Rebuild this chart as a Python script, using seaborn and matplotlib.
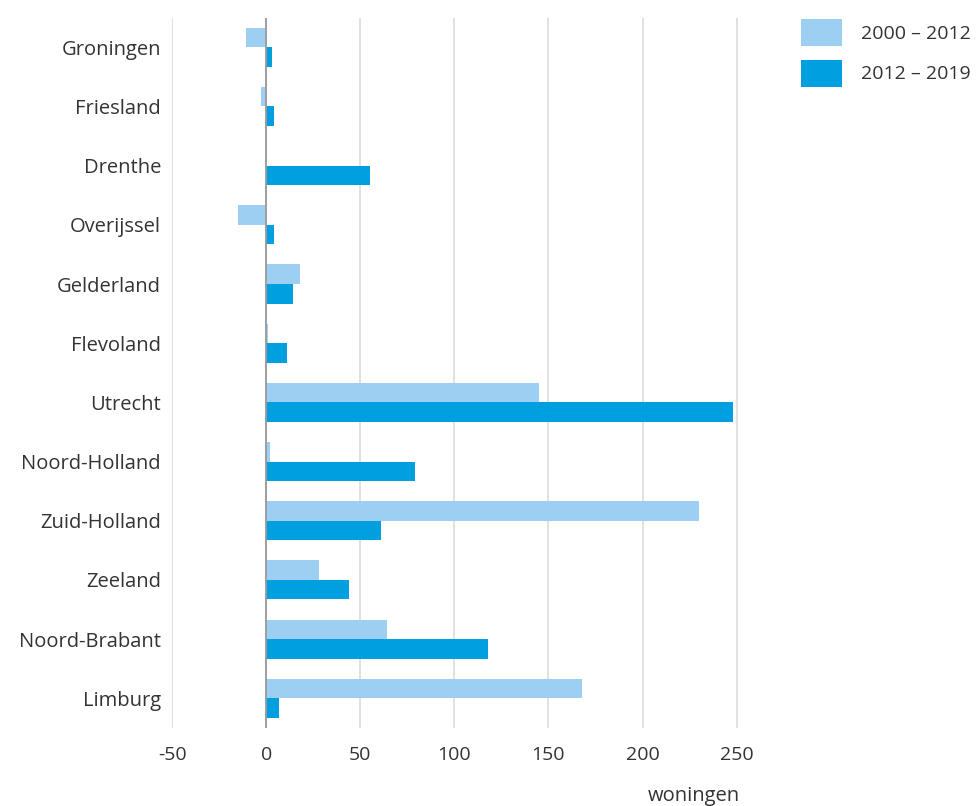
import matplotlib
matplotlib.use('Agg')
import pandas as pd
import matplotlib.pyplot as plt
import seaborn as sns
from matplotlib.patches import Patch

provincies = ["Groningen", "Friesland", "Drenthe", "Overijssel", "Gelderland", "Flevoland",
              "Utrecht", "Noord-Holland", "Zuid-Holland", "Zeeland", "Noord-Brabant", "Limburg"]
periode_2000_2012 = [-11, -3, 0, -15, 18, 1, 145, 2, 230, 28, 64, 168]
periode_2012_2019 = [3, 4, 55, 4, 14, 11, 248, 79, 61, 44, 118, 7]
periodes = ["2000 – 2012", "2012 – 2019"]
kleuren = {"2000 – 2012": "#9ccff2", "2012 – 2019": "#009fdf"}
xticks = [-50, 0, 50, 100, 150, 200, 250]

df = pd.DataFrame({
    "provincie": provincies * 2,
    "periode": [periodes[0]] * len(provincies) + [periodes[1]] * len(provincies),
    "woningen": periode_2000_2012 + periode_2012_2019,
})

sns.set_style("white")
plt.rcParams['font.family'] = ['Open Sans', 'DejaVu Sans']

fig = plt.figure(figsize=(9.78, 8.06), dpi=100)
ax = fig.add_axes([0.176, 0.097, 0.581, 0.881])

ax.grid(False)
for x in xticks:
    ax.axvline(x, color="#dcdcdc", lw=1.2, zorder=0)
ax.axvline(0, color="#9a9a9a", lw=1.3, zorder=3)

sns.barplot(data=df, y="provincie", x="woningen", hue="periode", order=provincies,
            hue_order=periodes, palette=kleuren, orient="h", width=0.66,
            saturation=1, edgecolor="none", legend=False, ax=ax, zorder=2)

ax.set_xlim(-50, 252)
ax.set_ylim(11.5, -0.5)
ax.set_xticks(xticks)
ax.set_xticklabels([str(x) for x in xticks])
for s in ax.spines.values():
    s.set_visible(False)
ax.tick_params(axis="x", length=0, pad=13, labelsize=14, labelcolor="#333333")
ax.tick_params(axis="y", length=0, pad=8, labelsize=14.5, labelcolor="#333333")
ax.set_ylabel("")
ax.set_xlabel("woningen", fontsize=14.5, color="#333333", loc="right", labelpad=16)

handles = [Patch(facecolor=kleuren[p], edgecolor="none", label=p) for p in periodes]
fig.legend(handles=handles, loc="upper left", bbox_to_anchor=(0.805, 0.993), frameon=False,
           fontsize=14, handlelength=2.1, handleheight=1.75, labelspacing=0.7,
           handletextpad=1.0, labelcolor="#333333", borderaxespad=0.3)

fig.savefig("out.png", dpi=100)
